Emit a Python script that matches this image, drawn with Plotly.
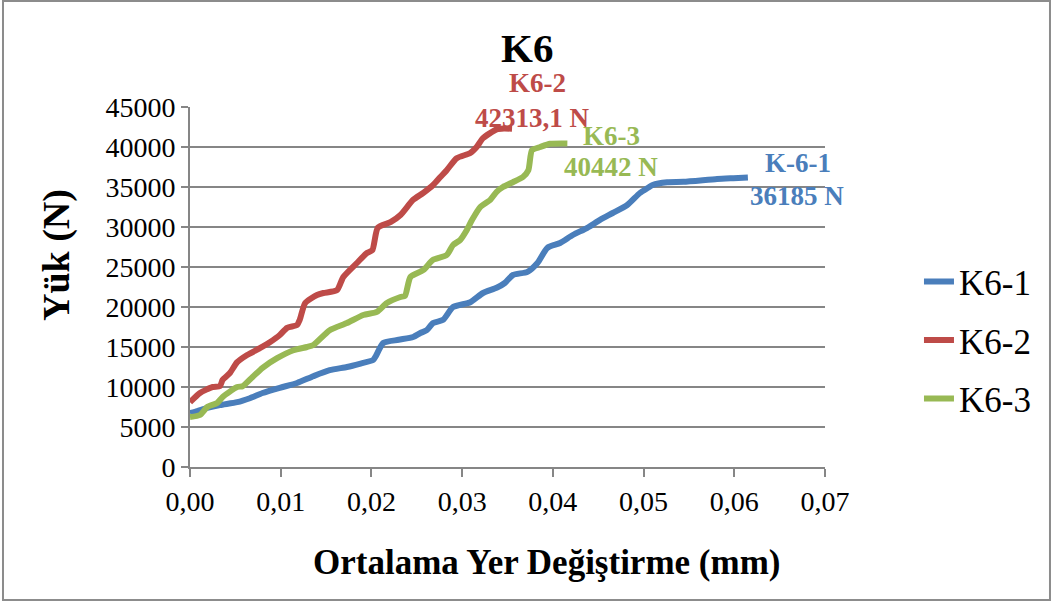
import plotly.graph_objects as go

# Average displacement (mm) and load (N) for each K6 specimen
k6_1_x = [0.0000, 0.0008, 0.0019, 0.0033, 0.0052, 0.0066, 0.0080, 0.0099, 0.0118, 0.0136,
          0.0154, 0.0173, 0.0187, 0.0202, 0.0205, 0.0213, 0.0230, 0.0246, 0.0254, 0.0261,
          0.0268, 0.0279, 0.0290, 0.0309, 0.0323, 0.0338, 0.0347, 0.0356, 0.0372, 0.0383,
          0.0394, 0.0408, 0.0422, 0.0438, 0.0452, 0.0466, 0.0482, 0.0496, 0.0505, 0.0510,
          0.0526, 0.0544, 0.0581, 0.0599, 0.0615]
k6_1_y = [6750, 7000, 7400, 7750, 8100, 8600, 9250, 9900, 10500, 11350,
          12100, 12500, 12900, 13400, 13900, 15500, 15900, 16250, 16750, 17100,
          18000, 18400, 20000, 20600, 21750, 22400, 23000, 24000, 24400, 25500,
          27400, 28000, 29000, 29900, 30900, 31750, 32750, 34250, 34900, 35250,
          35600, 35650, 36000, 36100, 36185]

k6_2_x = [0.0000, 0.0011, 0.0025, 0.0033, 0.0036, 0.0044, 0.0052, 0.0063, 0.0077, 0.0088,
          0.0099, 0.0107, 0.0118, 0.0121, 0.0127, 0.0140, 0.0147, 0.0162, 0.0169, 0.0184,
          0.0195, 0.0201, 0.0207, 0.0221, 0.0232, 0.0246, 0.0257, 0.0268, 0.0276, 0.0283,
          0.0294, 0.0309, 0.0316, 0.0323, 0.0338, 0.0346, 0.0355]
k6_2_y = [8100, 9250, 10000, 10100, 10900, 11750, 13100, 14000, 14850, 15600,
          16500, 17400, 17750, 18400, 20500, 21500, 21750, 22100, 23750, 25500,
          26750, 27100, 29900, 30600, 31500, 33400, 34250, 35250, 36250, 37100,
          38600, 39250, 40000, 41100, 42200, 42313.1, 42280]

k6_3_x = [0.0000, 0.0011, 0.0019, 0.0030, 0.0036, 0.0052, 0.0058, 0.0069, 0.0080, 0.0096,
          0.0114, 0.0129, 0.0136, 0.0154, 0.0173, 0.0191, 0.0206, 0.0217, 0.0232, 0.0237,
          0.0243, 0.0257, 0.0268, 0.0283, 0.0290, 0.0298, 0.0305, 0.0311, 0.0320, 0.0331,
          0.0338, 0.0345, 0.0356, 0.0367, 0.0373, 0.0377, 0.0386, 0.0397, 0.0416]
k6_3_y = [6250, 6500, 7500, 8000, 8750, 10000, 10100, 11250, 12400, 13600,
          14600, 15000, 15250, 17100, 18000, 19000, 19400, 20500, 21250, 21400,
          23750, 24600, 25900, 26500, 27750, 28400, 29600, 30900, 32500, 33400,
          34400, 35000, 35600, 36250, 37100, 39600, 40000, 40400, 40442]

x_ticks = [0.00, 0.01, 0.02, 0.03, 0.04, 0.05, 0.06, 0.07]
x_tick_text = ["0,00", "0,01", "0,02", "0,03", "0,04", "0,05", "0,06", "0,07"]
y_ticks = [0, 5000, 10000, 15000, 20000, 25000, 30000, 35000, 40000, 45000]

X_MAX = 0.07
Y_MAX = 45000

series = [
    ("K6-1", k6_1_x, k6_1_y, "#4A7EBB"),
    ("K6-2", k6_2_x, k6_2_y, "#BE4B48"),
    ("K6-3", k6_3_x, k6_3_y, "#98B954"),
]

# peak-load labels: (text, x, y in data units, colour)
peak_labels = [
    ("K6-2", 0.0383, 48000, "#BE4B48"),
    ("42313,1 N", 0.0378, 43600, "#BE4B48"),
    ("K6-3", 0.0465, 41400, "#98B954"),
    ("40442 N", 0.0464, 37500, "#98B954"),
    ("K-6-1", 0.0670, 38000, "#4A7EBB"),
    ("36185 N", 0.0669, 33875, "#4A7EBB"),
]

SERIF = "Liberation Serif"
GRID = "#868686"

fig = go.Figure()
for name, xs, ys, color in series:
    fig.add_trace(go.Scatter(
        x=xs, y=ys, mode="lines", name=name, legendgroup=name,
        line=dict(color=color, width=6, shape="spline", smoothing=0.6),
    ))

annotations = []
# labels may sit above the plot area, so place them in paper units
for txt, xx, yy, color in peak_labels:
    annotations.append(dict(
        x=xx / X_MAX, y=yy / Y_MAX, xref="paper", yref="paper",
        text=f"<b>{txt}</b>", showarrow=False,
        font=dict(family=SERIF, size=27, color=color),
        xanchor="center", yanchor="middle",
    ))

# chart title and axis titles
annotations.append(dict(x=0.531, y=1.164, xref="paper", yref="paper", text="<b>K6</b>",
                        showarrow=False, font=dict(family=SERIF, size=41, color="black"),
                        xanchor="center", yanchor="middle"))
annotations.append(dict(x=-0.2094, y=0.589, xref="paper", yref="paper", text="<b>Yük (N)</b>",
                        textangle=-90, showarrow=False,
                        font=dict(family=SERIF, size=38, color="black"),
                        xanchor="center", yanchor="middle"))
annotations.append(dict(x=0.562, y=-0.264, xref="paper", yref="paper",
                        text="<b>Ortalama Yer Değiştirme (mm)</b>", showarrow=False,
                        font=dict(family=SERIF, size=35, color="black"),
                        xanchor="center", yanchor="middle"))

fig.update_layout(
    width=1057, height=605,
    margin=dict(l=190, r=232, t=107, b=138),
    paper_bgcolor="white", plot_bgcolor="white",
    font=dict(family=SERIF, color="black"),
    showlegend=True,
    legend=dict(
        x=1.148, y=0.352, xanchor="left", yanchor="middle",
        font=dict(family=SERIF, size=35, color="black"),
        tracegroupgap=10, bgcolor="rgba(0,0,0,0)",
    ),
    annotations=annotations,
    shapes=[dict(type="rect", xref="paper", yref="paper",
                 x0=-0.2945, x1=1.3543, y0=-0.3694, y1=1.2944,
                 line=dict(color="#8C8C8C", width=2), fillcolor="rgba(0,0,0,0)",
                 layer="below")],
)

fig.update_xaxes(
    range=[0, X_MAX], tickvals=x_ticks, ticktext=x_tick_text,
    showgrid=False, zeroline=False,
    showline=True, linecolor=GRID, linewidth=2,
    ticks="outside", ticklen=8, tickwidth=2, tickcolor=GRID,
    tickfont=dict(family=SERIF, size=28, color="black"),
)
fig.update_yaxes(
    range=[0, Y_MAX], tickvals=y_ticks, ticktext=[str(v) for v in y_ticks],
    showgrid=True, gridcolor=GRID, gridwidth=2, zeroline=False,
    showline=True, linecolor=GRID, linewidth=2,
    ticks="outside", ticklen=7, tickwidth=2, tickcolor=GRID,
    tickfont=dict(family=SERIF, size=28, color="black"),
)

fig.write_html("out.html")
